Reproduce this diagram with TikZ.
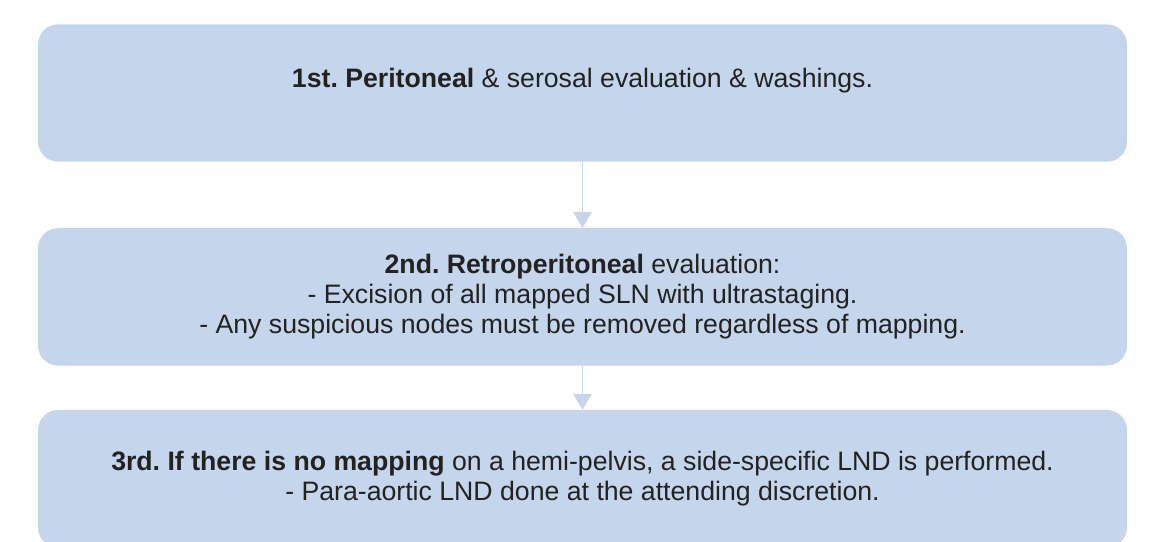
\documentclass[tikz,border=0pt]{standalone}
\usepackage{fontspec}
\setmainfont{Liberation Sans}
\usetikzlibrary{positioning,arrows.meta}
\definecolor{boxblue}{HTML}{C5D5EB}
\definecolor{txtgray}{HTML}{222222}
\frenchspacing

\begin{document}
\begin{tikzpicture}[x=0.75pt, y=-0.75pt,
    every node/.style={font=\fontsize{20}{22.5}\selectfont, text=txtgray},
    stepbox/.style={fill=boxblue, rounded corners=15pt, minimum width=816.75pt,
      minimum height=103pt, align=center, inner sep=0pt},
    flow/.style={draw=boxblue, line width=1.2pt, -{Triangle[width=14pt,length=12pt]}}]
  \useasboundingbox (0,0) rectangle (1159,542);
  \clip (0,0) rectangle (1159,542);

  % 1st step
  \node[stepbox] (first) at (582.5,93)
    {\textbf{1st. Peritoneal} \& serosal evaluation \& washings.\\ ~};

  % 2nd step
  \node[stepbox, below=49.5pt of first] (second)
    {\textbf{2nd. Retroperitoneal} evaluation:\\
     - Excision of all mapped SLN with ultrastaging.\\
     - Any suspicious nodes must be removed regardless of mapping.};

  % 3rd step (cut off at the bottom)
  \node[stepbox, below=33pt of second] (third)
    {\textbf{3rd. If there is no mapping} on a hemi-pelvis, a side-specific LND is performed.\\
     - Para-aortic LND done at the attending discretion.};

  \draw[flow] (first) -- (second);
  \draw[flow] (second) -- (third);
\end{tikzpicture}
\end{document}
